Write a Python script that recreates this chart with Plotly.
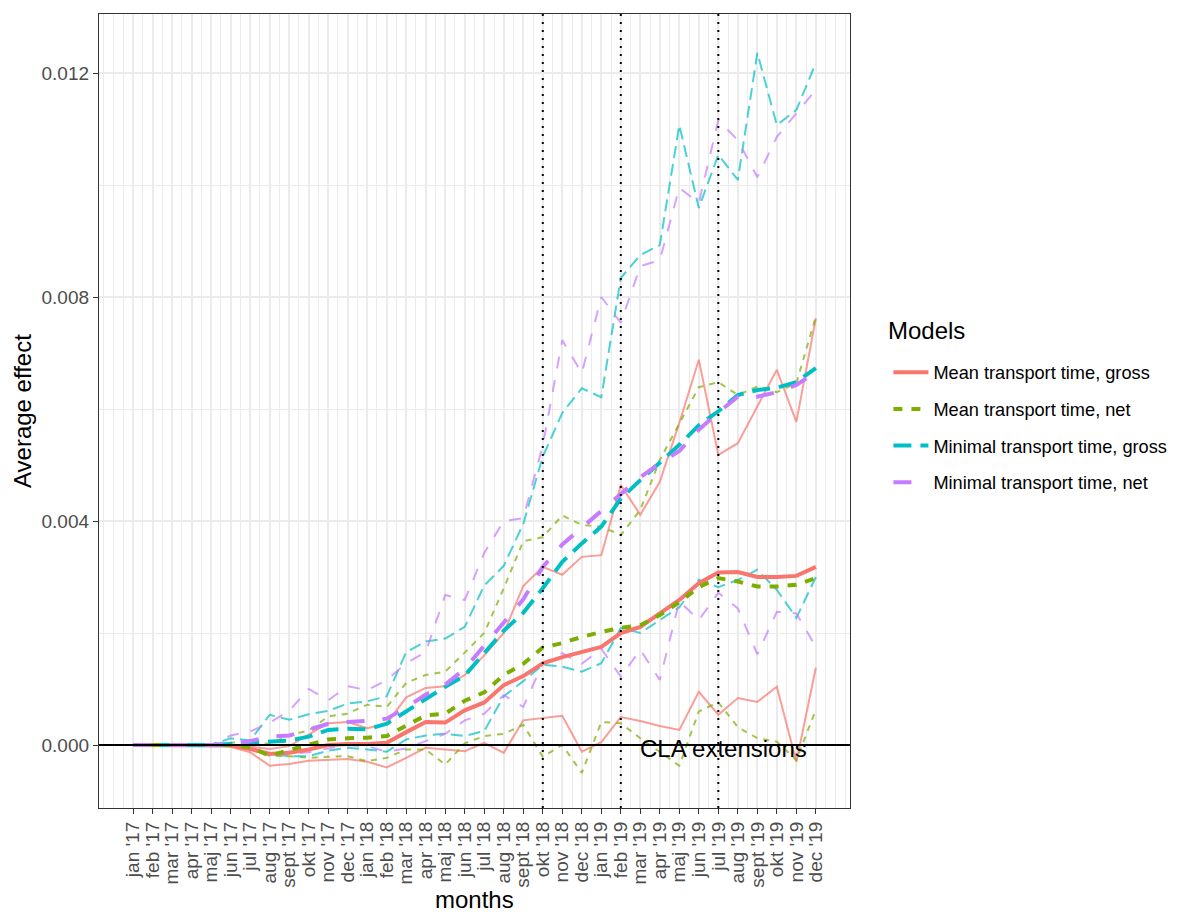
import plotly.graph_objects as go

# ---------------- data ----------------
tick_labels = ["jan '17", "feb '17", "mar '17", "apr '17", "maj '17", "jun '17",
               "jul '17", "aug '17", "sept '17", "okt '17", "nov '17", "dec '17",
               "jan '18", "feb '18", "mar '18", "apr '18", "maj '18", "jun '18",
               "jul '18", "aug '18", "sept '18", "okt '18", "nov '18", "dec '18",
               "jan '19", "feb '19", "mar '19", "apr '19", "maj '19", "jun '19",
               "jul '19", "aug '19", "sept '19", "okt '19", "nov '19", "dec '19"]

models = ["Mean transport time, gross", "Mean transport time, net",
          "Minimal transport time, gross", "Minimal transport time, net"]

mean_gross_est = [0, 0, 0, 0, 0, -0.00001, -0.00007, -0.00016, -0.00014, -0.00008, 0.0, 0.00002,
                  0.00002, 0.00004, 0.00023, 0.00041, 0.00040, 0.00062, 0.00076, 0.00107, 0.00123, 0.00146,
                  0.00157, 0.00166, 0.00175, 0.00200, 0.00211, 0.00235, 0.00259, 0.00289, 0.00308, 0.00309,
                  0.00300, 0.00300, 0.00302, 0.00318]
mean_gross_lo = [0, 0, 0, 0, 0, -0.00003, -0.00013, -0.00037, -0.00034, -0.00028, -0.00027, -0.00025,
                 -0.00030, -0.00040, -0.00023, -0.00005, -0.00008, -0.00011, 0.00004, -0.00014, 0.00044, 0.00048,
                 0.00052, -0.00012, 0.00005, 0.00050, 0.00043, 0.00034, 0.00027, 0.00095, 0.00054, 0.00084,
                 0.00077, 0.00104, -0.00030, 0.00138]
mean_gross_hi = [0, 0, 0, 0, 0, 0.0, -0.00003, -0.00007, -0.00002, 0.00018, 0.00039, 0.00041,
                 0.00030, 0.00038, 0.00085, 0.00102, 0.00105, 0.00125, 0.00160, 0.00200, 0.00284, 0.00318,
                 0.00304, 0.00336, 0.00339, 0.00464, 0.00411, 0.00470, 0.00575, 0.00688, 0.00518, 0.00539,
                 0.00604, 0.00670, 0.00577, 0.00762]

mean_net_est = [0, 0, 0, 0, 0, 0.0, -0.00004, -0.00019, -0.00009, 0.00001, 0.00010, 0.00012,
                0.00013, 0.00016, 0.00035, 0.00053, 0.00056, 0.00079, 0.00094, 0.00125, 0.00145, 0.00174,
                0.00182, 0.00193, 0.00202, 0.00209, 0.00214, 0.00232, 0.00255, 0.00282, 0.00298, 0.00292,
                0.00283, 0.00283, 0.00286, 0.00298]
mean_net_lo = [0, 0, 0, 0, 0, -0.00001, -0.00008, -0.00019, -0.00020, -0.00023, -0.00021, -0.00020,
               -0.00029, -0.00023, -0.00008, -0.00008, -0.00035, 0.00003, 0.00016, 0.00020, 0.00036, -0.00021,
               0.0, -0.00050, 0.00041, 0.00039, 0.00012, -0.00012, -0.00037, 0.00060, 0.00076, 0.00032,
               0.00012, 0.00006, -0.00027, 0.00063]
mean_net_hi = [0, 0, 0, 0, 0, 0.00004, 0.00007, 0.00002, 0.00017, 0.00026, 0.00051, 0.00056,
               0.00072, 0.00068, 0.00111, 0.00125, 0.00131, 0.00165, 0.00200, 0.00280, 0.00364, 0.00371,
               0.00410, 0.00393, 0.00390, 0.00375, 0.00420, 0.00509, 0.00575, 0.00639, 0.00648, 0.00625,
               0.00640, 0.00630, 0.00646, 0.00765]

min_gross_est = [0, 0, 0, 0, 0, 0.00002, 0.00004, 0.00005, 0.00008, 0.00015, 0.00027, 0.00029,
                 0.00028, 0.00038, 0.00060, 0.00083, 0.00104, 0.00124, 0.00165, 0.00204, 0.00236, 0.00280,
                 0.00327, 0.00360, 0.00390, 0.00440, 0.00473, 0.00505, 0.00536, 0.00571, 0.00596, 0.00625,
                 0.00634, 0.00638, 0.00648, 0.00673]
min_gross_lo = [0, 0, 0, 0, 0, 0.0, -0.00008, -0.00016, -0.00020, -0.00020, -0.00010, -0.00005,
                -0.00008, -0.00012, 0.00010, 0.00017, 0.00020, 0.00016, 0.00025, 0.00087, 0.00114, 0.00143,
                0.00140, 0.00131, 0.00146, 0.00209, 0.00200, 0.00223, 0.00246, 0.00295, 0.00282, 0.00295,
                0.00313, 0.00277, 0.00227, 0.00300]
min_gross_hi = [0, 0, 0, 0, 0, 0.00012, 0.00008, 0.00054, 0.00045, 0.00055, 0.00061, 0.00074,
                0.00078, 0.00087, 0.00166, 0.00185, 0.00190, 0.00211, 0.00285, 0.00320, 0.00395, 0.00515,
                0.00593, 0.00637, 0.00621, 0.00834, 0.00875, 0.00893, 0.01107, 0.00959, 0.01054, 0.01009,
                0.01236, 0.01107, 0.01134, 0.01218]

min_net_est = [0, 0, 0, 0, 0, 0.00002, 0.00007, 0.00015, 0.00017, 0.00027, 0.00038, 0.00041,
               0.00043, 0.00047, 0.00067, 0.00090, 0.00108, 0.00136, 0.00177, 0.00220, 0.00260, 0.00318,
               0.00358, 0.00388, 0.00418, 0.00447, 0.00478, 0.00503, 0.00525, 0.00563, 0.00594, 0.00622,
               0.00622, 0.00630, 0.00643, 0.00666]
min_net_lo = [0, 0, 0, 0, 0, 0.0, -0.00005, -0.00018, -0.00016, -0.00013, -0.00006, 0.0,
              -0.00002, -0.00012, -0.00006, 0.00007, 0.00020, 0.00044, 0.00056, 0.00089, 0.00068, 0.00146,
              0.00164, 0.00145, 0.00172, 0.00122, 0.00170, 0.00116, 0.00257, 0.00223, 0.00272, 0.00244,
              0.00162, 0.00238, 0.00235, 0.00175]
min_net_hi = [0, 0, 0, 0, 0, 0.00017, 0.00024, 0.00040, 0.00061, 0.00100, 0.00080, 0.00105,
              0.00098, 0.00116, 0.00146, 0.00166, 0.00268, 0.00259, 0.00343, 0.00400, 0.00405, 0.00535,
              0.00723, 0.00664, 0.00800, 0.00754, 0.00855, 0.00866, 0.00995, 0.00968, 0.01116, 0.01080,
              0.01014, 0.01086, 0.01128, 0.01170]

cla_months = ["okt '18", "feb '19", "jul '19"]

# ---------------- style ----------------
colors = ["#F8766D", "#7CAE00", "#00BFC4", "#C77CFF"]
thick_dash = ["solid", "9px,9px", "18px,9px", "18px,18px"]
thin_dash = ["solid", "6px,6px", "12px,6px", "12px,12px"]
FONT = "Liberation Sans, Arial, sans-serif"

x = list(range(len(tick_labels)))
series = [
    (mean_gross_est, mean_gross_lo, mean_gross_hi),
    (mean_net_est, mean_net_lo, mean_net_hi),
    (min_gross_est, min_gross_lo, min_gross_hi),
    (min_net_est, min_net_lo, min_net_hi),
]

fig = go.Figure()

# confidence bounds (thin, translucent)
for k, (est, lo, hi) in enumerate(series):
    for bound in (lo, hi):
        fig.add_trace(go.Scatter(
            x=x, y=bound, mode="lines", showlegend=False, hoverinfo="skip",
            opacity=0.7, legendgroup=models[k],
            line=dict(color=colors[k], width=2, dash=thin_dash[k])))

# estimates (thick)
for k, (est, lo, hi) in enumerate(series):
    fig.add_trace(go.Scatter(
        x=x, y=est, mode="lines", name=models[k], legendgroup=models[k],
        line=dict(color=colors[k], width=4, dash=thick_dash[k])))

# reference lines
fig.add_hline(y=0, line=dict(color="black", width=2))
for m in cla_months:
    fig.add_vline(x=tick_labels.index(m), line=dict(color="black", width=2, dash="2px,6px"))

fig.add_annotation(x=tick_labels.index("jul '19") + 0.25, y=0, text="CLA extensions",
                   showarrow=False, xanchor="center", yanchor="middle", yshift=-3,
                   font=dict(family=FONT, size=24, color="black"))

# axis titles
fig.add_annotation(xref="paper", yref="paper", x=0.5, y=0, text="months", showarrow=False,
                   yanchor="middle", yshift=-91, font=dict(family=FONT, size=24, color="black"))
fig.add_annotation(xref="paper", yref="paper", x=0, y=0.5, text="Average effect", showarrow=False,
                   textangle=-90, xanchor="center", xshift=-77,
                   font=dict(family=FONT, size=24, color="black"))
# legend title
fig.add_annotation(xref="paper", yref="paper", x=1.048, y=0.601, text="Models", showarrow=False,
                   xanchor="left", yanchor="middle",
                   font=dict(family=FONT, size=24, color="black"))

grid = "#EBEBEB"
border = "#333333"
fig.update_xaxes(
    range=[-1.75, 36.75], tickmode="array", tickvals=x, ticktext=tick_labels,
    tickangle=-90, ticks="outside", ticklen=5, tickwidth=1.2, tickcolor=border,
    tickfont=dict(family=FONT, size=19, color="#4D4D4D"),
    showgrid=True, gridcolor=grid, gridwidth=1.6, zeroline=False,
    showline=True, mirror=True, linecolor=border, linewidth=1.3,
    minor=dict(dtick=0.5, tick0=0, showgrid=True, gridcolor=grid, gridwidth=0.8, ticks=""),
)
fig.update_yaxes(
    range=[-0.001125, 0.013054], tickmode="array",
    tickvals=[0, 0.004, 0.008, 0.012], ticktext=["0.000", "0.004", "0.008", "0.012"],
    ticks="outside", ticklen=5, tickwidth=1.2, tickcolor=border,
    tickfont=dict(family=FONT, size=19, color="#4D4D4D"),
    showgrid=True, gridcolor=grid, gridwidth=1.6, zeroline=False,
    showline=True, mirror=True, linecolor=border, linewidth=1.3,
    minor=dict(dtick=0.002, tick0=0, showgrid=True, gridcolor=grid, gridwidth=0.8, ticks=""),
)

fig.update_layout(
    width=1172, height=904, autosize=False,
    margin=dict(l=91, r=330, t=6, b=104),
    paper_bgcolor="white", plot_bgcolor="white",
    font=dict(family=FONT, color="black"),
    showlegend=True,
    legend=dict(
        font=dict(family=FONT, size=18.2, color="black"),
        xref="container", yref="container",
        x=0.7512, xanchor="left", y=0.536, yanchor="middle",
        traceorder="grouped", tracegroupgap=10,
        bgcolor="rgba(0,0,0,0)", itemwidth=35,
    ),
)

fig.write_html("out.html")
